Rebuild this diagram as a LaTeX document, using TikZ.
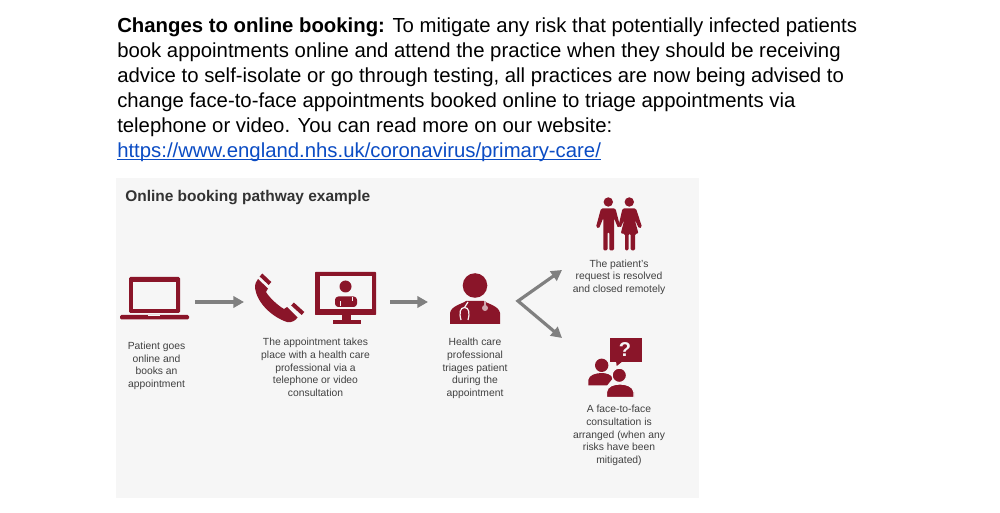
\documentclass[tikz,border=0pt]{standalone}
\usepackage{fontspec}
\setmainfont{Liberation Sans}
\usepackage{tikz, xcolor}
\usetikzlibrary{arrows.meta}
\definecolor{nhsred}{HTML}{8A1529}
\definecolor{panelgray}{HTML}{F6F6F6}
\definecolor{flowgray}{HTML}{808080}
\definecolor{captiongray}{HTML}{404040}
\definecolor{linkblue}{HTML}{0B4CC4}
\tikzset{
  caption/.style={align=center, inner sep=0pt, text=captiongray, font=\fontsize{7.75}{9.45}\selectfont},
  flow/.style={draw=flowgray, line width=2.4pt, arrows={-{Triangle[length=8pt, width=8.5pt]}}},
  icon/.style={fill=nhsred, draw=none},
  cutout/.style={fill=panelgray, draw=none},
  steth/.style={draw=panelgray, line width=.9pt}
}
\begin{document}
\begin{tikzpicture}[x=.75pt, y=-.75pt]
    \useasboundingbox (0, 0) rectangle (1000, 513);
    \fill [white] (0, 0) rectangle (1000, 513);

    % text above the picture
    \node (intro) [anchor=north west, align=left, inner sep=0pt, font=\fontsize{15.25}{18.75}\selectfont] at (117, 17.5)
      {\textbf{Changes to online booking:} To mitigate any risk that potentially infected patients\\
       book appointments online and attend the practice when they should be receiving\\
       advice to self-isolate or go through testing, all practices are now being advised to\\
       change face-to-face appointments booked online to triage appointments via\\
       telephone or video. You can read more on our website:\\
       \textcolor{linkblue}{\rlap{https://www.england.nhs.uk/coronavirus/primary-care/}\rule[-1.7pt]{363pt}{.7pt}}};

    \fill [panelgray] (116, 178) rectangle (699, 498);
    \node (title) [anchor=west, inner sep=0pt, text=black!80, font=\bfseries\fontsize{11.6}{13}\selectfont] at (125, 198) {Online booking pathway example};

    % laptop
    \fill [icon, rounded corners=1pt] (129, 277) rectangle (180, 313);
    \fill [cutout] (133, 282) rectangle (176, 309);
    \fill [icon, rounded corners=1pt] (120, 315) rectangle (189, 319.5);
    \fill [cutout] (148, 315) rectangle (160, 316.5);

    % phone
    \fill [icon] (255, 288) .. controls (255, 284) and (256, 281) .. (258, 279)
      -- (268, 288.5) -- (266, 292) .. controls (269, 297) and (277, 305) .. (284, 309)
      -- (287, 307) -- (297.5, 317.5) .. controls (296, 320) and (292, 323) .. (287, 322)
      .. controls (272, 317) and (257, 303) .. (255, 288) -- cycle;
    \draw [nhsred, line width=3pt] (261, 275) -- (270, 283.5);
    \draw [nhsred, line width=3pt] (292.5, 304) -- (303, 313.5);

    % monitor
    \fill [icon, rounded corners=.5pt] (315, 272) rectangle (376, 315);
    \fill [cutout] (319.5, 276.5) rectangle (371.5, 309.5);
    \fill [icon] (342, 315) rectangle (350.5, 320);
    \fill [icon] (332.5, 320) rectangle (360.5, 324.5);
    \fill [icon] (345.5, 286.5) circle (6);
    \fill [icon, rounded corners=2.5pt] (335, 307) -- (335, 296.5) -- (357, 296.5) -- (357, 307) -- cycle;
    \draw [steth, line width=.35pt] (340, 306) -- (340, 301);
    \draw [steth, line width=.35pt] (352, 297) -- (352, 301);

    % doctor
    \fill [icon] (475, 285.5) circle (12.3);
    \fill [icon] (450, 324) -- (450, 313) .. controls (451, 306) and (462, 304) .. (466, 301)
      -- (484, 301) .. controls (488, 304) and (499, 306) .. (500, 313) -- (500, 324) -- cycle;
    \draw [steth] (461, 320) .. controls (459, 313) and (460, 307.5) .. (464.5, 307.5)
      .. controls (469, 307.5) and (470, 313) .. (468, 320);
    \draw [steth] (464.5, 307.5) -- (468, 302);
    \fill [panelgray!65!nhsred] (485, 308) circle (3);
    \draw [panelgray!65!nhsred, line width=.9pt] (485, 308) -- (485, 301);

    % patient couple
    \fill [icon] (608.3, 202) circle (4.7);
    \fill [icon] (629.3, 202) circle (4.7);
    \fill [icon, rounded corners=1pt] (601, 208.5) -- (596, 227) -- (599, 228.5) -- (603.3, 218) -- (603.3, 250.5)
      -- (607.5, 250.5) -- (607.5, 232) -- (609.3, 232) -- (609.3, 250.5) -- (614, 250.5) -- (614, 218)
      -- (618, 228) -- (620, 226) -- (615.5, 208.5) -- cycle;
    \fill [icon, rounded corners=1pt] (622.5, 208.5) -- (618.5, 226) -- (620.5, 228) -- (624.5, 219) -- (620.7, 233.7)
      -- (625, 233.7) -- (625, 250.5) -- (628.5, 250.5) -- (628.5, 233.7) -- (630.7, 233.7) -- (630.7, 250.5)
      -- (635, 250.5) -- (635, 233.7) -- (638.5, 233.7) -- (634.5, 219) -- (639, 228.5) -- (642, 227) -- (636, 208.5) -- cycle;

    % two people and question
    \fill [icon] (609.5, 338) rectangle (641.5, 362);
    \fill [icon] (616, 361) -- (616.7, 366) -- (623, 361) -- cycle;
    \node (question) [text=panelgray, inner sep=0pt, font=\bfseries\fontsize{15}{15}\selectfont] at (625, 350) {?};
    \fill [icon] (601.7, 365.3) circle (6.7);
    \fill [icon] (588.3, 385.5) -- (588.3, 380) .. controls (589, 375) and (596, 373) .. (602, 373)
      .. controls (607, 373) and (611, 375) .. (613, 378) -- (607, 385.5) -- cycle;
    \fill [icon, draw=panelgray, line width=.9pt] (619.3, 375.3) circle (7.2);
    \fill [icon, draw=panelgray, line width=.9pt] (606.5, 397.5) -- (606.5, 392) .. controls (607, 386) and (614, 384) .. (620, 384)
      .. controls (626, 384) and (633, 386) .. (634, 392) -- (634, 397.5) -- cycle;

    % connector ends
    \coordinate (laptopout) at (195, 302);
    \coordinate (phonein) at (244, 302);
    \coordinate (monitorout) at (390, 302);
    \coordinate (doctorin) at (428, 302);
    \coordinate (split) at (518, 301);
    \coordinate (closedin) at (562, 270);
    \coordinate (visitin) at (562, 338);

    \draw [flow] (laptopout) to (phonein);
    \draw [flow] (monitorout) to (doctorin);
    \draw [flow, arrows={{Triangle[length=8pt, width=8.5pt]}-{Triangle[length=8pt, width=8.5pt]}}] (closedin) to (split) to (visitin);

    % captions
    \node (patientcap) [caption] at (156.5, 366) {Patient goes\\online and\\books an\\appointment};
    \node (phonecap) [caption] at (315.5, 367.5) {The appointment takes\\place with a health care\\professional via a\\telephone or video\\consultation};
    \node (doctorcap) [caption] at (475, 368.5) {Health care\\professional\\triages patient\\during the\\appointment};
    \node (closedcap) [caption] at (619, 277) {The patient's\\request is resolved\\and closed remotely};
    \node (visitcap) [caption] at (619, 435.5) {A face-to-face\\consultation is\\arranged (when any\\risks have been\\mitigated)};
\end{tikzpicture}
\end{document}
